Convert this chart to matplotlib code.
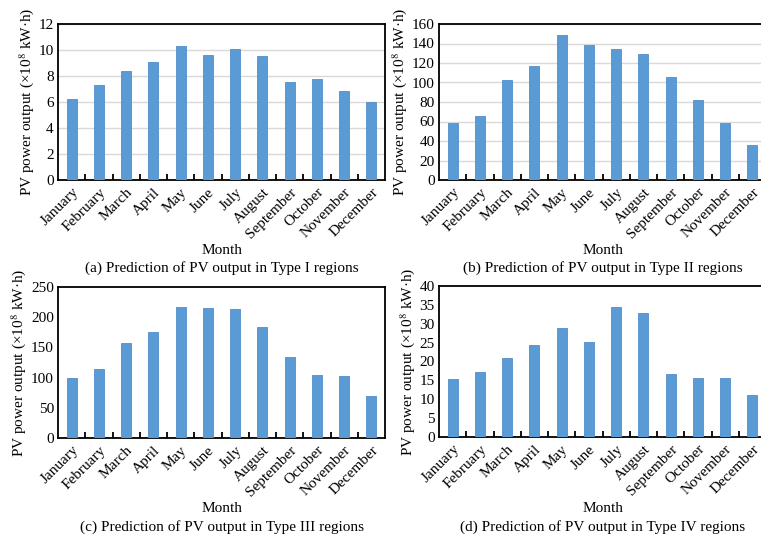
import numpy as np
import matplotlib
matplotlib.use("Agg")
import matplotlib.pyplot as plt

plt.rcParams["font.family"] = ["Liberation Serif", "DejaVu Serif"]
plt.rcParams["mathtext.fontset"] = "stix"
plt.rcParams["font.size"] = 11

months = ["January", "February", "March", "April", "May", "June", "July",
          "August", "September", "October", "November", "December"]

type1 = [6.22, 7.33, 8.38, 9.07, 10.31, 9.61, 10.10, 9.54, 7.53, 7.76, 6.84, 5.99]
type2 = [58.9, 66.1, 102.4, 117.2, 148.7, 138.7, 134.6, 129.2, 105.9, 82.2, 58.9, 35.6]
type3 = [99.9, 114.2, 156.7, 175.5, 217.4, 215.8, 214.1, 184.3, 134.1, 104.3, 102.6, 70.1]
type4 = [15.4, 17.2, 21.0, 24.4, 29.0, 25.2, 34.4, 32.8, 16.7, 15.5, 15.7, 11.2]

captions = ["(a) Prediction of PV output in Type I regions",
            "(b) Prediction of PV output in Type II regions",
            "(c) Prediction of PV output in Type III regions",
            "(d) Prediction of PV output in Type IV regions"]

ylims = [(0, 12, 2), (0, 160, 20), (0, 250, 50), (0, 40, 5)]
grid_on = [True, True, False, False]

W, H = 761, 537
fig = plt.figure(figsize=(W / 100, H / 100), dpi=100)

# axes boxes in pixels: left, top, bottom
boxes = [(58, 24, 180), (439, 24, 180), (58, 287, 438), (439, 286, 437)]
ax_w = 327

bar_color = "#5b9bd5"
ylabel = r"PV power output (×10$^{8}$ kW·h)"

for i, (vals, (l, t, b)) in enumerate(zip([type1, type2, type3, type4], boxes)):
    ax = fig.add_axes([l / W, 1 - b / H, ax_w / W, (b - t) / H])
    x = np.arange(len(months))
    ax.bar(x, vals, width=0.36, color=bar_color, edgecolor="#4f8fcb",
           linewidth=0.6, zorder=3)
    lo, hi, step = ylims[i]
    ax.set_ylim(lo, hi)
    ax.set_yticks(np.arange(lo, hi + step / 2, step))
    ax.set_xlim(-0.5, len(months) - 0.5)
    ax.set_xticks(x)
    ax.set_xticklabels(months, rotation=45, ha="right", rotation_mode="anchor")
    ax.set_xticks(x[:-1] + 0.5, minor=True)
    ax.tick_params(axis="x", which="major", length=0, pad=4)
    ax.tick_params(axis="x", which="minor", direction="in", length=4, width=1.3)
    ax.tick_params(axis="y", direction="in", length=0, pad=3)
    if grid_on[i]:
        ax.grid(axis="y", color="#d9d9d9", linewidth=1.0, zorder=0)
    for s in ax.spines.values():
        s.set_linewidth(1.3)
        s.set_color("black")
    ax.set_ylabel(ylabel, labelpad=2)
    ax.set_xlabel("Month")
    ax.xaxis.set_label_coords(0.5, (b - (251 if i < 2 else 509)) / (b - t))
    ax.xaxis.label.set_va("center")
    cap_y = 268 if i < 2 else 527
    fig.text((l + ax_w / 2) / W, 1 - cap_y / H, captions[i],
             ha="center", va="center")

fig.savefig("out.png", dpi=100)
